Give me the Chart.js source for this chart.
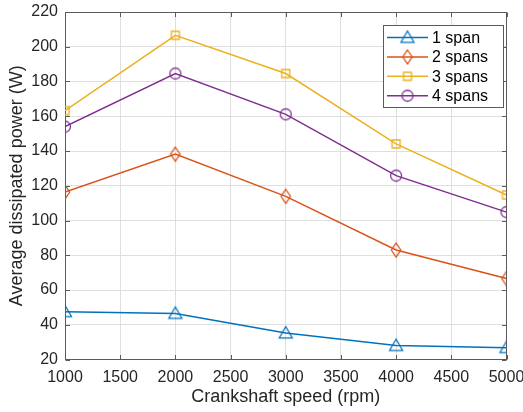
<!DOCTYPE html>
<html><head><meta charset="utf-8">
<script src="https://cdn.jsdelivr.net/npm/chart.js@4.4.1/dist/chart.umd.min.js"></script>
<style>html,body{margin:0;padding:0;background:#fff}#wrap{width:523px;height:412px;position:relative}</style>
</head><body><div id="wrap"><canvas id="c" width="523" height="412"></canvas></div>
<script>
const speeds = [1000, 2000, 3000, 4000, 5000];
const span1 = [47.5, 46.5, 35.2, 28.0, 26.8];
const span2 = [116.4, 138.2, 113.9, 83.0, 66.6];
const span3 = [163.2, 206.6, 184.6, 144.1, 114.7];
const span4 = [154.0, 184.6, 161.1, 125.8, 104.8];
const seriesNames = ['1 span', '2 spans', '3 spans', '4 spans'];
const xTicks = [1000, 1500, 2000, 2500, 3000, 3500, 4000, 4500, 5000];
const yTicks = [20, 40, 60, 80, 100, 120, 140, 160, 180, 200, 220];
const xTitle = 'Crankshaft speed (rpm)';
const yTitle = 'Average dissipated power (W)';

const colors = ['#0072BD', '#D95319', '#EDB120', '#7E2F8E'];
const shapes = ['triangle', 'diamond', 'square', 'circle'];
const AX = '#262626';
const LINE = '#5a5a5a';
const FONT = '"Liberation Sans", Arial, Helvetica, sans-serif';

function makeMarker(shape, color) {
  const c = document.createElement('canvas');
  c.width = 18; c.height = 18;
  const g = c.getContext('2d');
  g.strokeStyle = color; g.lineWidth = 1.3;
  const cx = 9, cy = 9;
  g.beginPath();
  if (shape === 'triangle') {
    g.moveTo(cx, cy - 6.5); g.lineTo(cx + 6.5, cy + 4.8); g.lineTo(cx - 6.5, cy + 4.8); g.closePath();
  } else if (shape === 'diamond') {
    g.moveTo(cx, cy - 7); g.lineTo(cx + 4.7, cy); g.lineTo(cx, cy + 7); g.lineTo(cx - 4.7, cy); g.closePath();
  } else if (shape === 'square') {
    g.rect(cx - 4, cy - 4, 8, 8);
  } else {
    g.arc(cx, cy, 5.5, 0, Math.PI * 2);
  }
  g.stroke();
  return c;
}
const markers = shapes.map((s, i) => makeMarker(s, colors[i]));
const allSeries = [span1, span2, span3, span4];

const datasets = allSeries.map((vals, i) => ({
  label: seriesNames[i],
  data: speeds.map((x, j) => ({x: x, y: vals[j]})),
  borderColor: colors[i],
  backgroundColor: colors[i],
  borderWidth: 1.5,
  pointStyle: markers[i],
  pointRadius: 6,
  fill: false,
  tension: 0
}));

const boxPlugin = {
  id: 'box',
  afterDatasetsDraw(chart) {
    const {ctx, chartArea: a, scales} = chart;
    ctx.save();
    ctx.strokeStyle = LINE; ctx.lineWidth = 1;
    const L = Math.round(a.left) + 0.5, R = Math.round(a.right) - 0.5;
    const T = Math.round(a.top) + 0.5, B = Math.round(a.bottom) - 0.5;
    ctx.beginPath();
    ctx.moveTo(L, T); ctx.lineTo(R, T); ctx.lineTo(R, B);
    const tl = 4.5;
    xTicks.forEach(v => {
      const px = Math.round(scales.x.getPixelForValue(v)) + 0.5;
      ctx.moveTo(px, B); ctx.lineTo(px, B - tl);
      ctx.moveTo(px, T); ctx.lineTo(px, T + tl);
    });
    yTicks.forEach(v => {
      const py = Math.round(scales.y.getPixelForValue(v)) + 0.5;
      ctx.moveTo(L, py); ctx.lineTo(L + tl, py);
      ctx.moveTo(R, py); ctx.lineTo(R - tl, py);
    });
    ctx.stroke();
    ctx.restore();
  },
  afterDraw(chart) {
    const ctx = chart.ctx;
    ctx.save();
    const bx = 383.5, by = 25.5, bw = 120, bh = 82;
    ctx.fillStyle = '#fff';
    ctx.fillRect(bx, by, bw, bh);
    ctx.strokeStyle = LINE; ctx.lineWidth = 1;
    ctx.strokeRect(bx, by, bw, bh);
    ctx.font = '16px ' + FONT;
    ctx.textBaseline = 'middle';
    seriesNames.forEach((name, i) => {
      const y = 37.5 + i * 19.4;
      ctx.strokeStyle = colors[i]; ctx.lineWidth = 1.5;
      ctx.beginPath(); ctx.moveTo(387, y); ctx.lineTo(428, y); ctx.stroke();
      const m = markers[i];
      ctx.drawImage(m, 407.5 - m.width / 2, y - m.height / 2);
      ctx.fillStyle = '#000';
      ctx.fillText(name, 432, y + 1);
    });
    ctx.restore();
  }
};

new Chart(document.getElementById('c'), {
  type: 'line',
  data: {datasets},
  options: {
    responsive: false,
    animation: false,
    devicePixelRatio: 1,
    layout: {padding: {top: 12, right: 16.5, left: 0, bottom: 0}},
    plugins: {legend: {display: false}, tooltip: {enabled: false}},
    scales: {
      x: {
        type: 'linear', min: 1000, max: 5000,
        afterBuildTicks: s => { s.ticks = xTicks.map(v => ({value: v})); },
        afterFit: s => { s.height = 52.5; s.paddingLeft = 0; s.paddingRight = 0; },
        ticks: {color: AX, font: {family: FONT, size: 16}, padding: 8, maxRotation: 0, autoSkip: false,
          callback: v => String(v)},
        grid: {color: '#dfdfdf', drawTicks: false, lineWidth: 1},
        border: {color: LINE, width: 1},
        title: {display: true, text: xTitle, color: AX, font: {family: FONT, size: 18}, padding: {top: 0, bottom: 4}}
      },
      y: {
        type: 'linear', min: 20, max: 220,
        afterBuildTicks: s => { s.ticks = yTicks.map(v => ({value: v})); },
        afterFit: s => { s.width = 65; s.paddingTop = 0; s.paddingBottom = 0; },
        ticks: {color: AX, font: {family: FONT, size: 16}, padding: 7, autoSkip: false,
          callback: v => String(v)},
        grid: {color: '#dfdfdf', drawTicks: false, lineWidth: 1},
        border: {color: LINE, width: 1},
        title: {display: true, text: yTitle, color: AX, font: {family: FONT, size: 18}, padding: {top: 6, bottom: 0}}
      }
    }
  },
  plugins: [boxPlugin]
});
</script>
</body></html>
